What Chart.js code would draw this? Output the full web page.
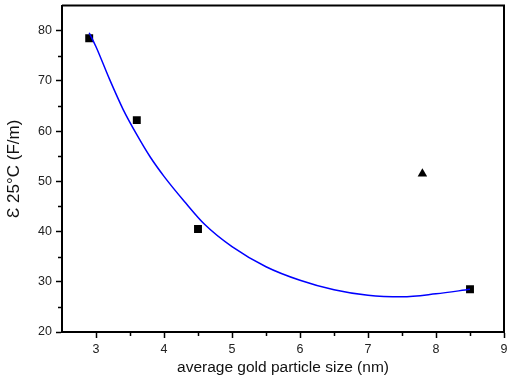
<!DOCTYPE html>
<html>
<head>
<meta charset="utf-8">
<script src="https://cdn.jsdelivr.net/npm/chart.js@4/dist/chart.umd.min.js"></script>
<style>
  html, body { margin: 0; padding: 0; background: #fff; }
  #wrap { width: 510px; height: 381px; }
</style>
</head>
<body>
<div id="wrap"><canvas id="grafico"></canvas></div>
<script>
/* measured points (squares) */
const sizeNm = [2.9, 3.6, 4.5, 8.5];
const epsilon = [78.5, 62.2, 40.5, 28.5];

/* separate point (triangle) */
const triX = [7.8];
const triY = [51.5];

/* fitted curve */
const fitX = [2.9, 3.0, 3.2, 3.4, 3.6, 3.8, 4.0, 4.3, 4.6, 5.0, 5.5, 6.0, 6.5, 7.0, 7.5, 8.0, 8.5];
const fitY = [79.6, 76.8, 70.3, 64.3, 59.3, 54.8, 51.0, 46.0, 41.4, 37.0, 33.0, 30.3, 28.4, 27.3, 27.0, 27.6, 28.5];

const xTicks = [3, 4, 5, 6, 7, 8, 9];
const yTicks = [20, 30, 40, 50, 60, 70, 80];
const xMin = 2.5, xMax = 9;
const yMin = 20, yMax = 85;

const zip = (xs, ys) => xs.map((x, i) => ({ x, y: ys[i] }));

/* frame on top and right, minor ticks on the axes */
const frame = {
  id: 'frame',
  afterDraw(chart) {
    const { ctx, chartArea: a, scales } = chart;
    ctx.save();
    ctx.strokeStyle = '#000';
    ctx.lineWidth = 2;
    ctx.beginPath();
    ctx.moveTo(a.left, a.top);
    ctx.lineTo(a.right, a.top);
    ctx.lineTo(a.right, a.bottom);
    ctx.stroke();
    ctx.lineWidth = 1.5;
    ctx.beginPath();
    for (let v = 3.5; v < xMax; v += 1) {
      const px = Math.round(scales.x.getPixelForValue(v)) + 0.5;
      ctx.moveTo(px, a.bottom);
      ctx.lineTo(px, a.bottom + 4);
    }
    for (let v = 25; v < yMax; v += 10) {
      const py = Math.round(scales.y.getPixelForValue(v)) + 0.5;
      ctx.moveTo(a.left, py);
      ctx.lineTo(a.left - 4, py);
    }
    ctx.stroke();
    ctx.restore();
  }
};

const font = 'Liberation Sans, Arial, sans-serif';

new Chart(document.getElementById('grafico'), {
  type: 'scatter',
  data: {
    datasets: [
      {
        label: 'fit',
        type: 'line',
        data: zip(fitX, fitY),
        borderColor: '#0000ff',
        borderWidth: 1.5,
        pointRadius: 0,
        cubicInterpolationMode: 'monotone',
        fill: false
      },
      {
        label: 'squares',
        data: zip(sizeNm, epsilon),
        pointStyle: 'rect',
        pointRadius: 5.6,
        backgroundColor: '#000',
        borderColor: '#000',
        borderWidth: 0
      },
      {
        label: 'triangle',
        data: zip(triX, triY),
        pointStyle: 'triangle',
        pointRadius: 5.5,
        backgroundColor: '#000',
        borderColor: '#000',
        borderWidth: 0
      }
    ]
  },
  options: {
    responsive: true,
    maintainAspectRatio: false,
    animation: false,
    layout: { padding: { left: 4, right: 6, top: 1, bottom: 0 } },
    plugins: { legend: { display: false }, tooltip: { enabled: false } },
    scales: {
      x: {
        type: 'linear',
        min: xMin,
        max: xMax,
        afterFit: (s) => { s.height = 49; s.paddingRight = 0; s.paddingLeft = 0; },
        afterBuildTicks: (s) => {
          s.ticks = xTicks.map(v => ({ value: v }));
        },
        grid: { drawOnChartArea: false, color: '#000', tickLength: 6, tickWidth: 1.5 },
        border: { color: '#000', width: 2 },
        ticks: { color: '#222', font: { family: font, size: 12.5 }, padding: 4, maxRotation: 0 },
        title: {
          display: true,
          text: 'average gold particle size (nm)',
          color: '#111',
          font: { family: font, size: 15.5 },
          padding: { top: 4, bottom: 4 }
        }
      },
      y: {
        min: yMin,
        max: yMax,
        afterFit: (s) => { s.width = 58; s.paddingTop = 0; s.paddingBottom = 0; },
        afterBuildTicks: (s) => {
          s.ticks = yTicks.map(v => ({ value: v }));
        },
        grid: { drawOnChartArea: false, color: '#000', tickLength: 6, tickWidth: 1.5 },
        border: { color: '#000', width: 2 },
        ticks: { color: '#222', font: { family: font, size: 12.5 }, padding: 4 },
        title: {
          display: true,
          text: 'Ɛ 25°C (F/m)',
          color: '#111',
          font: { family: font, size: 17 },
          padding: { top: 0, bottom: 3 }
        }
      }
    }
  },
  plugins: [frame]
});
</script>
</body>
</html>
